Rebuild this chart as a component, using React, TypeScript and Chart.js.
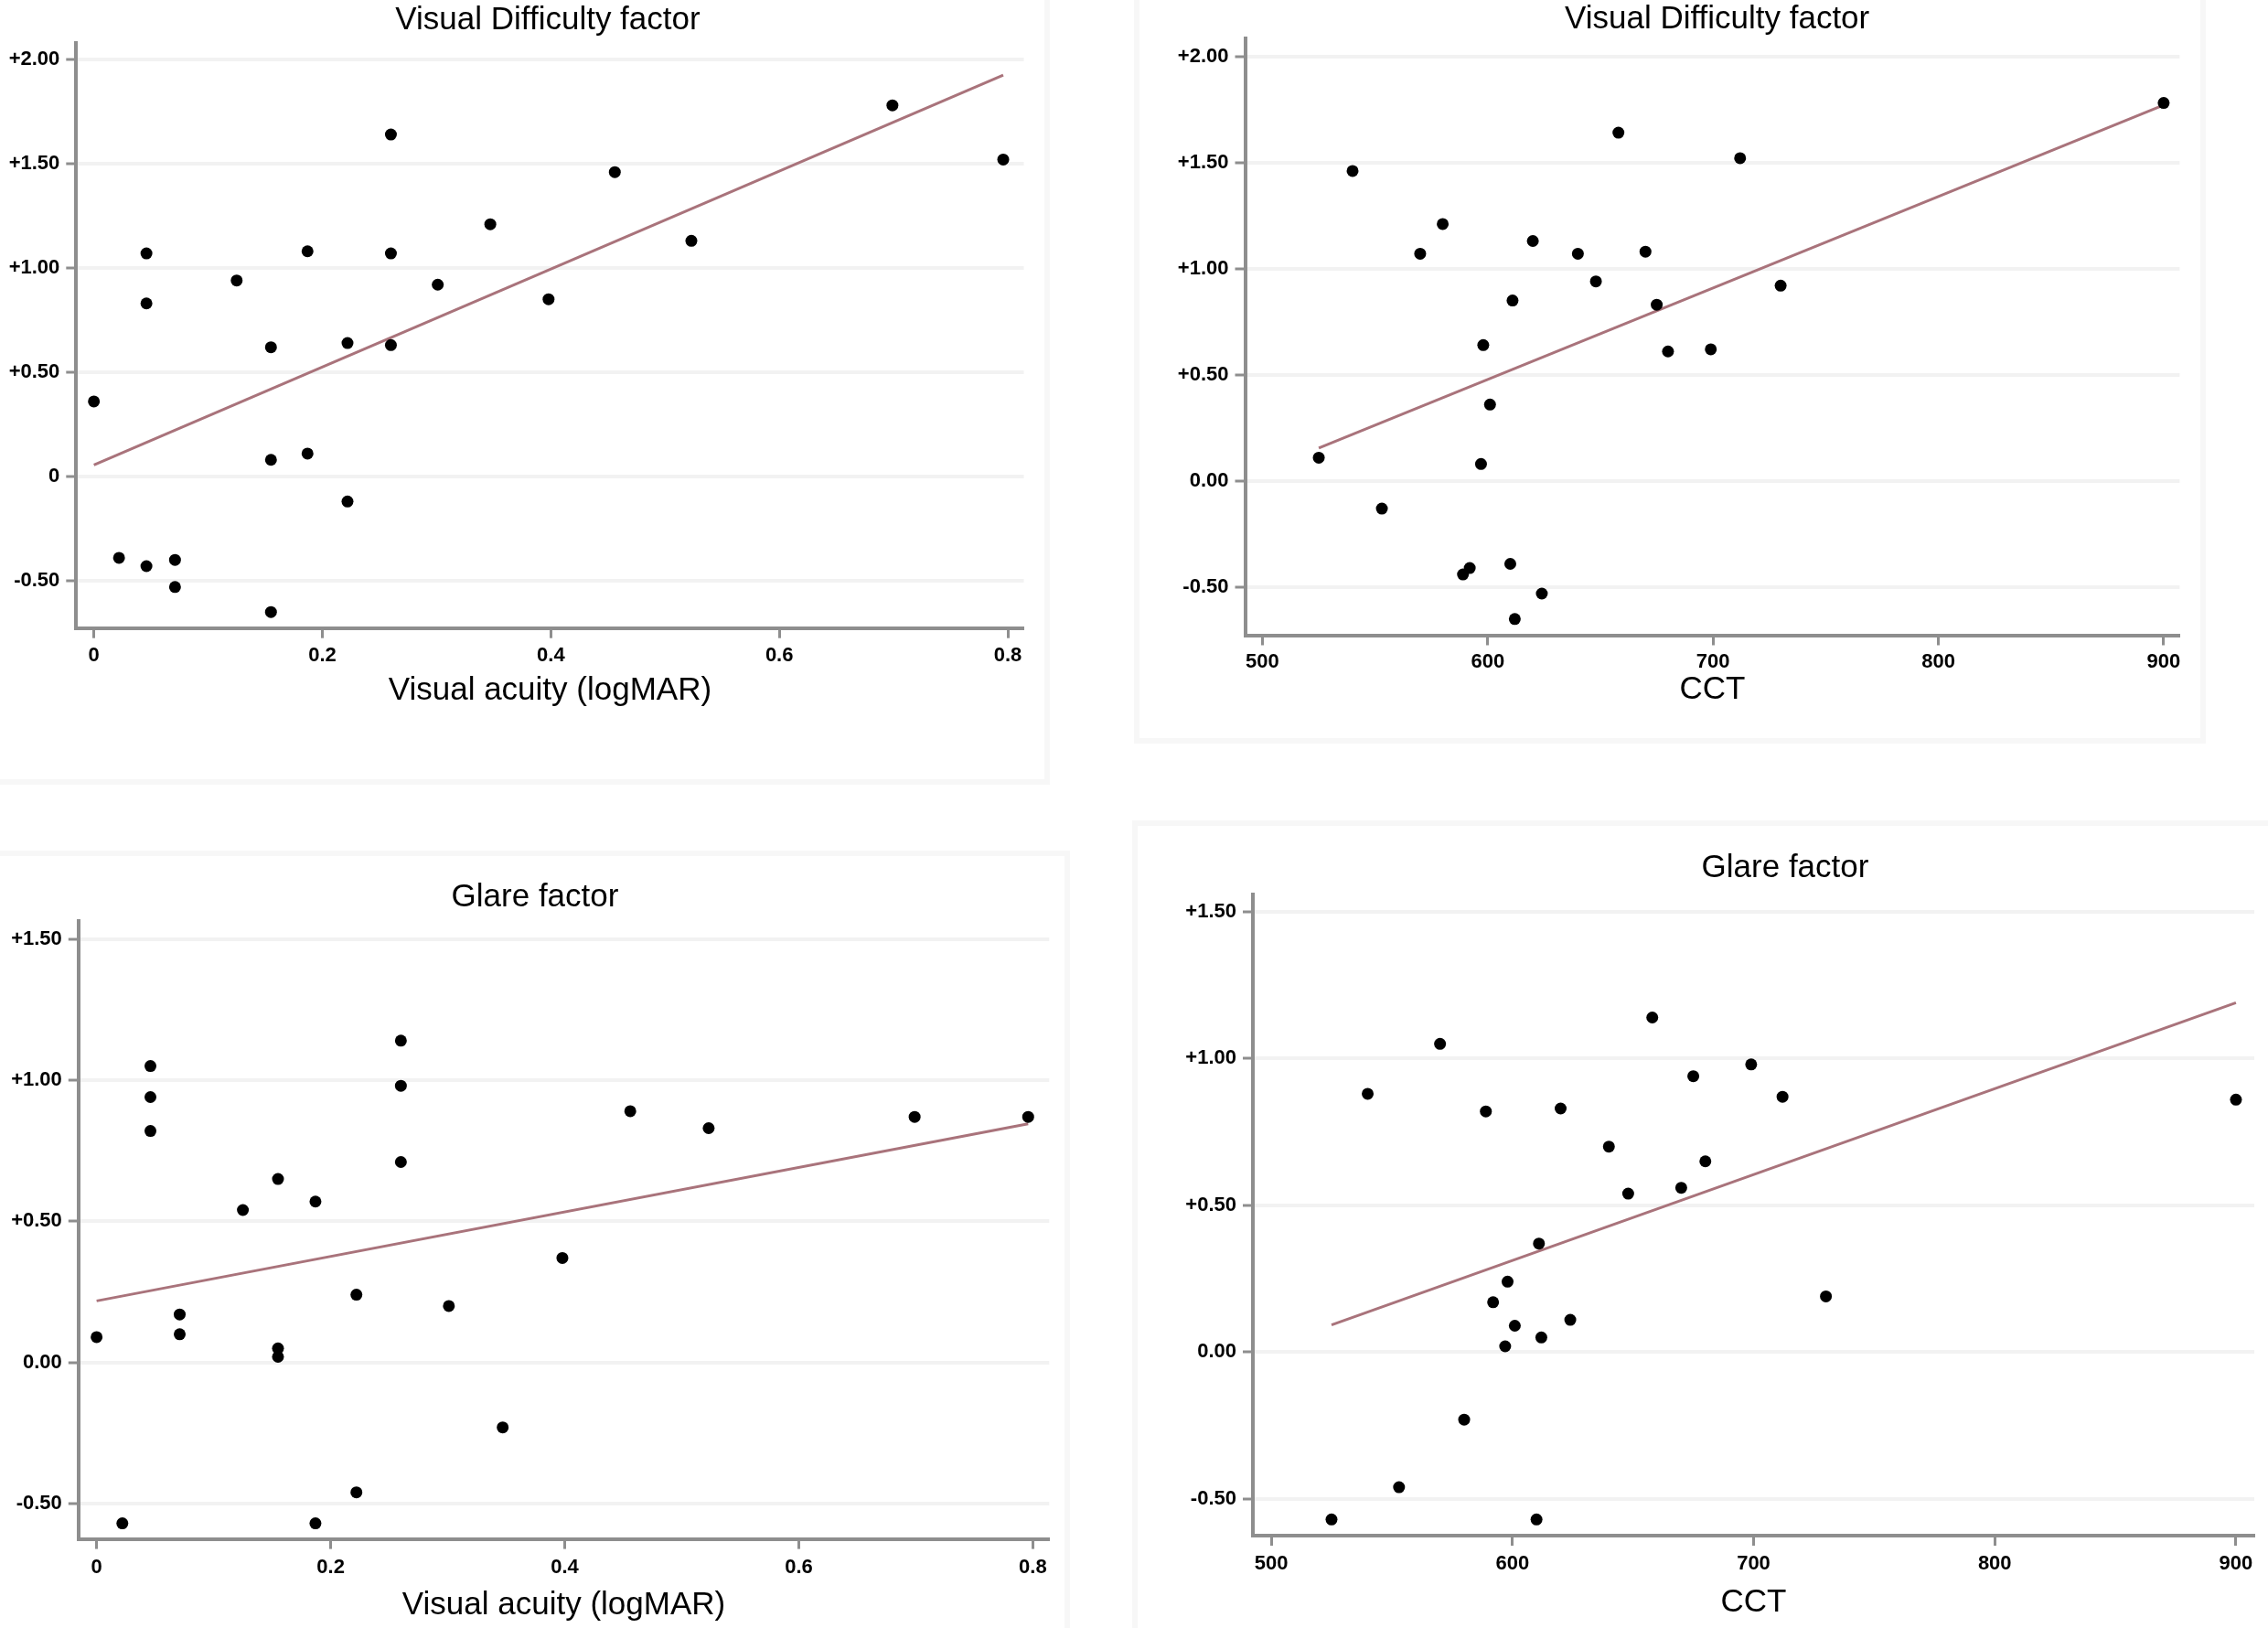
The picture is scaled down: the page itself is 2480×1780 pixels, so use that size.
import React, { useEffect, useRef } from 'react';
import { Chart, registerables } from 'chart.js';

Chart.register(...registerables);

// ---------------- data ----------------
const vaTicks = [0, 0.2, 0.4, 0.6, 0.8];
const vaTickLabels = ['0', '0.2', '0.4', '0.6', '0.8'];
const cctTicks = [500, 600, 700, 800, 900];
const cctTickLabels = ['500', '600', '700', '800', '900'];
const vdTicks = [-0.5, 0, 0.5, 1, 1.5, 2];
const vdTickLabelsVa = ['-0.50', '0', '+0.50', '+1.00', '+1.50', '+2.00'];
const vdTickLabelsCct = ['-0.50', '0.00', '+0.50', '+1.00', '+1.50', '+2.00'];
const glTicks = [-0.5, 0, 0.5, 1, 1.5];
const glTickLabels = ['-0.50', '0.00', '+0.50', '+1.00', '+1.50'];

// Visual Difficulty factor vs Visual acuity (logMAR)
const vdVaX = [0, 0.022, 0.046, 0.046, 0.046, 0.071, 0.071, 0.125, 0.155, 0.155, 0.155, 0.187, 0.187, 0.222, 0.222, 0.26, 0.26, 0.26, 0.301, 0.347, 0.398, 0.456, 0.523, 0.699, 0.796];
const vdVaY = [0.36, -0.39, 1.07, 0.83, -0.43, -0.40, -0.53, 0.94, 0.62, 0.08, -0.65, 1.08, 0.11, 0.64, -0.12, 1.64, 1.07, 0.63, 0.92, 1.21, 0.85, 1.46, 1.13, 1.78, 1.52];
const vdVaFitX = [0, 0.796];
const vdVaFitY = [0.055, 1.925];

// Visual Difficulty factor vs CCT
const vdCctX = [525, 540, 553, 570, 580, 589, 592, 597, 598, 601, 610, 611, 612, 620, 624, 640, 648, 658, 670, 675, 680, 699, 712, 730, 900];
const vdCctY = [0.11, 1.46, -0.13, 1.07, 1.21, -0.44, -0.41, 0.08, 0.64, 0.36, -0.39, 0.85, -0.65, 1.13, -0.53, 1.07, 0.94, 1.64, 1.08, 0.83, 0.61, 0.62, 1.52, 0.92, 1.78];
const vdCctFitX = [525, 900];
const vdCctFitY = [0.155, 1.77];

// Glare factor vs Visual acuity (logMAR)
const glVaX = [0, 0.022, 0.046, 0.046, 0.046, 0.071, 0.071, 0.125, 0.155, 0.155, 0.155, 0.187, 0.187, 0.222, 0.222, 0.26, 0.26, 0.26, 0.301, 0.347, 0.398, 0.456, 0.523, 0.699, 0.796];
const glVaY = [0.09, -0.57, 1.05, 0.94, 0.82, 0.17, 0.10, 0.54, 0.65, 0.05, 0.02, 0.57, -0.57, 0.24, -0.46, 1.14, 0.98, 0.71, 0.20, -0.23, 0.37, 0.89, 0.83, 0.87, 0.87];
const glVaFitX = [0, 0.796];
const glVaFitY = [0.218, 0.845];

// Glare factor vs CCT
const glCctX = [525, 540, 553, 570, 580, 589, 592, 597, 598, 601, 610, 611, 612, 620, 624, 640, 648, 658, 670, 675, 680, 699, 712, 730, 900];
const glCctY = [-0.57, 0.88, -0.46, 1.05, -0.23, 0.82, 0.17, 0.02, 0.24, 0.09, -0.57, 0.37, 0.05, 0.83, 0.11, 0.70, 0.54, 1.14, 0.56, 0.94, 0.65, 0.98, 0.87, 0.19, 0.86];
const glCctFitX = [525, 900];
const glCctFitY = [0.093, 1.19];

// ---------------- styles / layout ----------------
const FONT = "'Liberation Sans', Arial, Helvetica, sans-serif";
const AXIS_GRAY = '#8e8e8e';
const GRID_GRAY = '#f2f2f2';
const FIT_COLOR = '#a9737b';

type Spec = {
  key: string;
  canvas: { left: number; top: number; w: number; h: number };
  pad: { left: number; right: number; top: number; bottom: number };
  yW: number;
  rightW: number;
  xH: number;
  title: string;
  titlePad: { top: number; bottom: number };
  xTitle: string;
  xTickPad: number;
  xMin: number; xMax: number; yMin: number; yMax: number;
  xTicks: number[]; xTickLabels: string[];
  yTicks: number[]; yTickLabels: string[];
  px: number[]; py: number[]; fx: number[]; fy: number[];
};

const specs: Spec[] = [
  {
    key: 'p1',
    canvas: { left: 0, top: 0, w: 1198, h: 800 },
    pad: { left: 3.3, right: 3.3, top: 0, bottom: 23.3 },
    yW: 80, rightW: 75.2, xH: 90,
    title: 'Visual Difficulty factor', titlePad: { top: 1.4, bottom: 3.4 },
    xTitle: 'Visual acuity (logMAR)', xTickPad: 6,
    xMin: -0.0155, xMax: 0.814, yMin: -0.727, yMax: 2.08,
    xTicks: vaTicks, xTickLabels: vaTickLabels, yTicks: vdTicks, yTickLabels: vdTickLabelsVa,
    px: vdVaX, py: vdVaY, fx: vdVaFitX, fy: vdVaFitY,
  },
  {
    key: 'p2',
    canvas: { left: 1280, top: 0, w: 1195, h: 790 },
    pad: { left: 1.5, right: 1.3, top: 0, bottom: 15.1 },
    yW: 80, rightW: 90.3, xH: 80.4,
    title: 'Visual Difficulty factor', titlePad: { top: 0, bottom: 0 },
    xTitle: 'CCT', xTickPad: 5,
    xMin: 492.3, xMax: 907.1, yMin: -0.726, yMax: 2.084,
    xTicks: cctTicks, xTickLabels: cctTickLabels, yTicks: vdTicks, yTickLabels: vdTickLabelsCct,
    px: vdCctX, py: vdCctY, fx: vdCctFitX, fy: vdCctFitY,
  },
  {
    key: 'p3',
    canvas: { left: 0, top: 940, w: 1170, h: 840 },
    pad: { left: 5.8, right: 5.8, top: 0, bottom: 4.1 },
    yW: 80, rightW: 16.9, xH: 93.3,
    title: 'Glare factor', titlePad: { top: 20, bottom: 4.6 },
    xTitle: 'Visual acuity (logMAR)', xTickPad: 6.7,
    xMin: -0.0155, xMax: 0.814, yMin: -0.625, yMax: 1.565,
    xTicks: vaTicks, xTickLabels: vaTickLabels, yTicks: glTicks, yTickLabels: glTickLabels,
    px: glVaX, py: glVaY, fx: glVaFitX, fy: glVaFitY,
  },
  {
    key: 'p4',
    canvas: { left: 1280, top: 900, w: 1340, h: 880 },
    pad: { left: 10, right: 6, top: 0, bottom: 6.9 },
    yW: 80, rightW: 149, xH: 94.1,
    title: 'Glare factor', titlePad: { top: 28.4, bottom: 7.6 },
    xTitle: 'CCT', xTickPad: 6.8,
    xMin: 492.4, xMax: 907.6, yMin: -0.625, yMax: 1.559,
    xTicks: cctTicks, xTickLabels: cctTickLabels, yTicks: glTicks, yTickLabels: glTickLabels,
    px: glCctX, py: glCctY, fx: glCctFitX, fy: glCctFitY,
  },
];

const frames = [
  { left: -10, top: -10, w: 1158, h: 868 },
  { left: 1240, top: -10, w: 1172, h: 823 },
  { left: -10, top: 930, w: 1180, h: 860 },
  { left: 1238, top: 897, w: 1252, h: 893 },
];

function Panel({ s }: { s: Spec }) {
  const ref = useRef<HTMLCanvasElement | null>(null);
  useEffect(() => {
    const canvas = ref.current;
    if (!canvas) return;
    const points = s.px.map((x, i) => ({ x, y: s.py[i] }));
    const fit = s.fx.map((x, i) => ({ x, y: s.fy[i] }));
    const tickFont = { family: FONT, size: 22, weight: 'bold' as const };
    const textFont = { family: FONT, size: 35, weight: 'normal' as const };
    const chart = new Chart(canvas, {
      type: 'scatter',
      data: {
        datasets: [
          {
            data: points,
            pointRadius: 6.5,
            pointHoverRadius: 6.5,
            pointBackgroundColor: '#000',
            pointBorderColor: '#000',
            pointBorderWidth: 0,
            showLine: false,
            order: 0,
          },
          {
            data: fit,
            showLine: true,
            borderColor: FIT_COLOR,
            borderWidth: 3,
            pointRadius: 0,
            fill: false,
            tension: 0,
            order: 1,
          },
        ],
      },
      options: {
        responsive: false,
        animation: false,
        devicePixelRatio: 1,
        events: [],
        layout: { padding: s.pad },
        plugins: {
          legend: { display: false },
          tooltip: { enabled: false },
          title: {
            display: true,
            text: s.title,
            color: '#000',
            font: textFont,
            padding: s.titlePad,
          },
        },
        scales: {
          x: {
            type: 'linear',
            min: s.xMin,
            max: s.xMax,
            afterBuildTicks: (scale: any) => {
              scale.ticks = s.xTicks.map((v) => ({ value: v }));
            },
            afterFit: (scale: any) => {
              scale.height = s.xH;
              scale.paddingLeft = 0;
              scale.paddingRight = 0;
            },
            ticks: {
              autoSkip: false,
              maxRotation: 0,
              color: '#000',
              font: tickFont,
              padding: s.xTickPad,
              callback: (_v: any, i: number) => s.xTickLabels[i],
            },
            grid: {
              display: true,
              drawOnChartArea: false,
              drawTicks: true,
              tickLength: 11,
              tickWidth: 3,
              tickColor: AXIS_GRAY,
            },
            border: { display: true, color: AXIS_GRAY, width: 4 },
            title: {
              display: true,
              text: s.xTitle,
              color: '#000',
              font: textFont,
              padding: { top: 0, bottom: 0 },
            },
          },
          y: {
            type: 'linear',
            min: s.yMin,
            max: s.yMax,
            afterBuildTicks: (scale: any) => {
              scale.ticks = s.yTicks.map((v) => ({ value: v }));
            },
            afterFit: (scale: any) => {
              scale.width = s.yW;
              scale.paddingTop = 0;
              scale.paddingBottom = 0;
            },
            ticks: {
              autoSkip: false,
              color: '#000',
              font: tickFont,
              padding: 7,
              callback: (_v: any, i: number) => s.yTickLabels[i],
            },
            grid: {
              display: true,
              drawOnChartArea: true,
              color: GRID_GRAY,
              lineWidth: 4,
              drawTicks: true,
              tickLength: 11,
              tickWidth: 3,
              tickColor: AXIS_GRAY,
            },
            border: { display: true, color: AXIS_GRAY, width: 4 },
          },
          yRight: {
            type: 'linear',
            position: 'right',
            display: true,
            grid: { display: false },
            border: { display: false },
            ticks: { display: false },
            afterFit: (scale: any) => {
              scale.width = s.rightW;
              scale.paddingTop = 0;
              scale.paddingBottom = 0;
            },
          },
        },
      } as any,
    });
    return () => chart.destroy();
  }, [s]);
  return (
    <canvas
      ref={ref}
      width={s.canvas.w}
      height={s.canvas.h}
      style={{
        position: 'absolute',
        left: s.canvas.left,
        top: s.canvas.top,
        width: s.canvas.w,
        height: s.canvas.h,
      }}
    />
  );
}

export default function App() {
  return (
    <div
      style={{
        position: 'absolute',
        left: 0,
        top: 0,
        width: 2480,
        height: 1780,
        overflow: 'hidden',
        background: '#fff',
      }}
    >
      {frames.map((f, i) => (
        <div
          key={'f' + i}
          style={{
            position: 'absolute',
            left: f.left,
            top: f.top,
            width: f.w,
            height: f.h,
            boxSizing: 'border-box',
            border: '6px solid #f7f7f7',
          }}
        />
      ))}
      {specs.map((s) => (
        <Panel key={s.key} s={s} />
      ))}
    </div>
  );
}
